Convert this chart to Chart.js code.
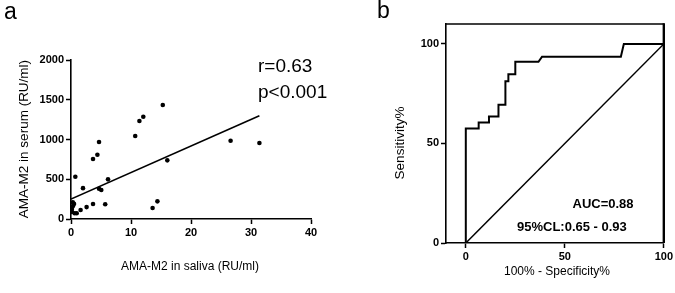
<!DOCTYPE html>
<html>
<head>
<meta charset="utf-8">
<script src="https://cdn.jsdelivr.net/npm/chart.js@4.4.1/dist/chart.umd.min.js"></script>
<style>
  html, body { margin: 0; padding: 0; background: #fff; }
  #wrap { position: relative; width: 675px; height: 293px; overflow: hidden; font-family: "Liberation Sans", Arial, sans-serif; color: #000; }
  canvas { position: absolute; top: 0; }
  .t { position: absolute; line-height: 1; white-space: nowrap; }
  .rot { position: absolute; line-height: 1; white-space: nowrap; text-align: center; transform: rotate(-90deg); transform-origin: 50% 50%; }
</style>
</head>
<body>
<div id="wrap">
  <canvas id="c1" width="340" height="293" style="left:0;width:340px;height:293px"></canvas>
  <canvas id="c2" width="335" height="293" style="left:340px;width:335px;height:293px"></canvas>

  <div class="t" style="left:4px;top:0px;font-size:23px;">a</div>
  <div class="t" style="left:377px;top:-1px;font-size:23px;">b</div>

  <div class="t" style="left:258px;top:56px;font-size:19px;">r=0.63</div>
  <div class="t" style="left:258px;top:82px;font-size:19px;">p&lt;0.001</div>

  <div class="t" style="left:40px;width:300px;text-align:center;top:260px;font-size:12px;">AMA-M2 in saliva (RU/ml)</div>
  <div class="rot" style="left:-76px;width:200px;top:132px;height:14px;font-size:13.5px;">AMA-M2 in serum (RU/ml)</div>

  <div class="t" style="left:457px;width:200px;text-align:center;top:264.5px;font-size:12px;">100% - Specificity%</div>
  <div class="rot" style="left:320px;width:160px;top:136px;height:14px;font-size:13.5px;">Sensitivity%</div>

  <div class="t" style="left:572.5px;top:196.5px;font-size:13px;font-weight:bold;">AUC=0.88</div>
  <div class="t" style="left:517px;top:219.7px;font-size:13px;font-weight:bold;">95%CL:0.65 - 0.93</div>
</div>
<script>
// ---- Panel a: AMA-M2 saliva vs serum ----
const salivaX = [0.15, 0.15, 0.3, 0.5, 0.3, 0.6, 0.95, 0.72, 1.6, 2.0, 2.6, 3.67, 3.67, 4.4, 4.67, 4.67, 5.05, 5.7, 6.17, 10.7, 11.4, 12.05, 13.6, 14.4, 15.3, 16.05, 26.6, 31.4];
const serumY  = [90, 125, 160, 190, 210, 72, 72, 532, 113, 388, 150, 189, 755, 809, 969, 381, 365, 185, 499, 1044, 1233, 1287, 138, 222, 1434, 738, 985, 956];
const fitX = [0, 31.4];
const fitY = [250, 1300];
const salivaTicks = [0, 10, 20, 30, 40];
const serumTicks = [0, 500, 1000, 1500, 2000];

// ---- Panel b: ROC curve ----
const rocFpr = [0, 0, 6.5, 6.5, 11.7, 11.7, 16.5, 16.5, 20, 20, 21.5, 21.5, 25, 25, 36.7, 38.5, 78.3, 79.8, 100];
const rocTpr = [0, 57.5, 57.5, 60.5, 60.5, 63.5, 63.5, 69.5, 69.5, 81.3, 81.3, 84.8, 84.8, 91, 91, 93.6, 93.6, 100, 100];
const refX = [0, 100];
const refY = [0, 100];
const rocTicks = [0, 50, 100];

const FONT = { family: "'Liberation Sans', Arial, sans-serif", size: 11, weight: 'bold' };
const zip = (xs, ys) => xs.map((x, i) => ({ x: x, y: ys[i] }));

function axis(min, max, ticks, fitFn) {
  return {
    type: 'linear', min: min, max: max,
    afterBuildTicks: s => { s.ticks = ticks.map(v => ({ value: v })); },
    afterFit: fitFn,
    ticks: { color: '#000', font: FONT, padding: 2, maxRotation: 0, autoSkip: false, callback: v => String(v) },
    grid: { display: true, drawOnChartArea: false, drawTicks: true, tickLength: 5, color: '#000', tickColor: '#000', tickWidth: 1.5 },
    border: { display: true, color: '#000', width: 1.6 },
    title: { display: false }
  };
}

new Chart(document.getElementById('c1'), {
  type: 'scatter',
  data: {
    datasets: [
      { data: zip(salivaX, serumY), backgroundColor: '#000', borderColor: '#000', pointRadius: 2.3, pointHoverRadius: 2.3, borderWidth: 0 },
      { type: 'line', data: zip(fitX, fitY), borderColor: '#000', borderWidth: 1.6, pointRadius: 0, fill: false, tension: 0 }
    ]
  },
  options: {
    responsive: false, animation: false, devicePixelRatio: 1,
    layout: { padding: { left: 0, top: 60, right: 29, bottom: 0 } },
    plugins: { legend: { display: false }, tooltip: { enabled: false } },
    scales: {
      x: axis(0, 40, salivaTicks, s => { s.height = 74; }),
      y: axis(0, 2000, serumTicks, s => { s.width = 71; })
    }
  }
});

const boxPlugin = {
  id: 'box',
  afterDraw(chart) {
    const a = chart.chartArea, ctx = chart.ctx;
    ctx.save();
    ctx.strokeStyle = '#000';
    ctx.lineWidth = 1.6;
    ctx.beginPath();
    ctx.moveTo(a.left, a.top);
    ctx.lineTo(a.right, a.top);
    ctx.stroke();
    ctx.lineWidth = 2.4;
    ctx.beginPath();
    ctx.moveTo(a.right, a.top - 0.8);
    ctx.lineTo(a.right, a.bottom);
    ctx.stroke();
    ctx.restore();
  }
};

new Chart(document.getElementById('c2'), {
  type: 'line',
  data: {
    datasets: [
      { data: zip(rocFpr, rocTpr), borderColor: '#000', borderWidth: 2, pointRadius: 0, fill: false, tension: 0 },
      { data: zip(refX, refY), borderColor: '#000', borderWidth: 1.5, pointRadius: 0, fill: false, tension: 0 }
    ]
  },
  options: {
    responsive: false, animation: false, devicePixelRatio: 1,
    layout: { padding: { left: 0, top: 24, right: 9, bottom: 0 } },
    plugins: { legend: { display: false }, tooltip: { enabled: false } },
    scales: {
      x: axis(-10, 100, rocTicks, s => { s.height = 50; }),
      y: axis(0, 110, rocTicks, s => { s.width = 106; })
    }
  },
  plugins: [boxPlugin]
});
</script>
</body>
</html>
